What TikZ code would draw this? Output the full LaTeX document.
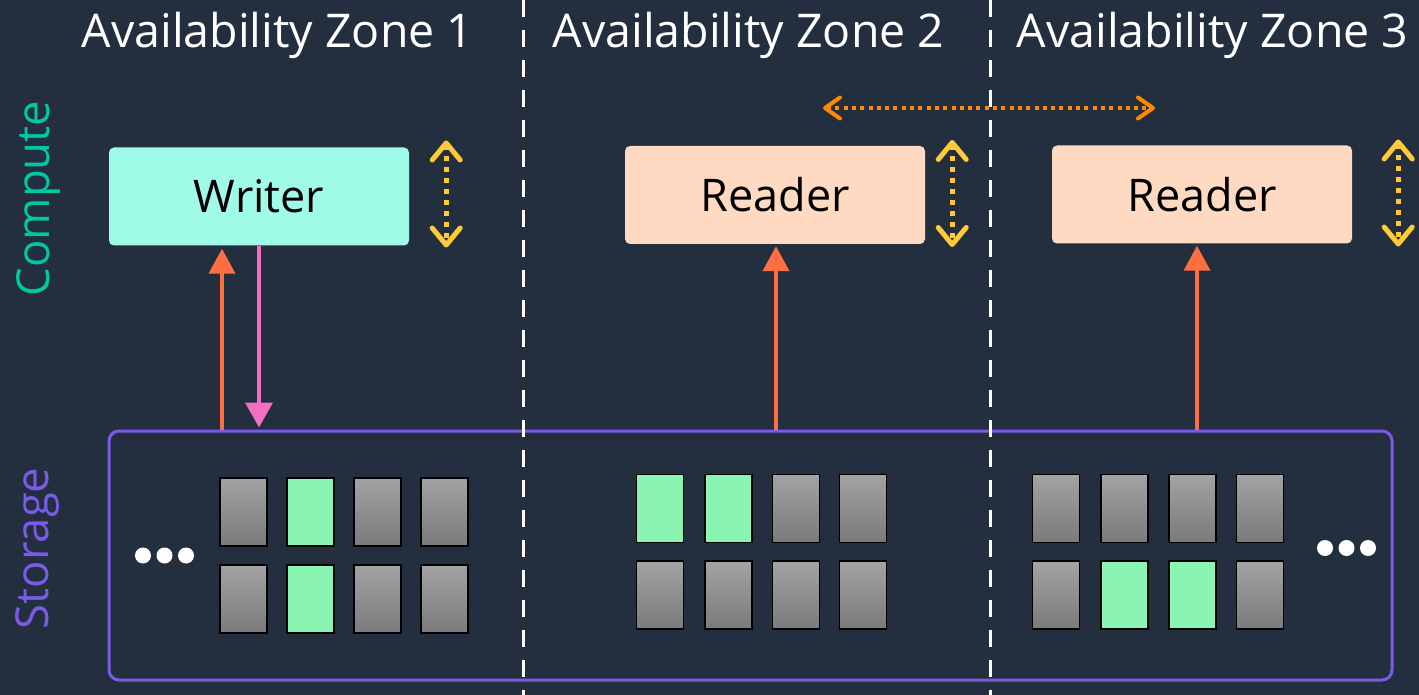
\documentclass[tikz,border=0pt]{standalone}
\usepackage{fontspec}
\setmainfont{Open Sans}
\usetikzlibrary{arrows.meta}

\definecolor{squid}{HTML}{232F3E}
\definecolor{writerfill}{HTML}{A0FAE8}
\definecolor{readerfill}{HTML}{FFDAC2}
\definecolor{scaleyellow}{HTML}{FFCA38}
\definecolor{moveorange}{HTML}{FF8A00}
\definecolor{readorange}{HTML}{FF6E40}
\definecolor{writepink}{HTML}{F46EC1}
\definecolor{storepurple}{HTML}{7A5BE6}
\definecolor{computeteal}{HTML}{01C8A3}
\definecolor{hotgreen}{HTML}{8AF5B2}

\tikzset{
  zonetitle/.style={text=white, font=\fontsize{46.5}{52}\selectfont, anchor=base, inner sep=0pt},
  layerlabel/.style={rotate=90, font=\fontsize{45.5}{52}\selectfont, inner sep=0pt},
  instbox/.style={rounded corners=5pt, minimum width=300pt, minimum height=98pt,
    inner sep=0pt, text=black, font=\fontsize{45}{52}\selectfont},
  storebox/.style={draw=storepurple, line width=3pt, rounded corners=10pt,
    minimum width=1283pt, minimum height=249pt},
  idleblk/.style={draw=black, line width=1.5pt, top color=black!36, bottom color=black!52,
    minimum width=47pt, minimum height=68pt, inner sep=0pt},
  hotblk/.style={idleblk, fill=hotgreen, top color=hotgreen, bottom color=hotgreen},
  dot/.style={circle, fill=white, minimum size=16pt, inner sep=0pt},
  zoneline/.style={white, line width=3pt, dash pattern=on 17pt off 13pt},
  vscale/.style={scaleyellow, line width=5pt, dash pattern=on 5pt off 6pt,
    {Straight Barb[round,length=17pt,width=28pt]}-{Straight Barb[round,length=17pt,width=28pt]}},
  hscale/.style={moveorange, line width=4pt, dash pattern=on 4pt off 4.3pt,
    {Straight Barb[round,length=15pt,width=21pt]}-{Straight Barb[round,length=15pt,width=21pt]}},
  readline/.style={readorange, line width=4pt, -{Triangle[length=25pt,width=26pt]}},
  writeline/.style={writepink, line width=4pt, -{Triangle[length=25pt,width=27pt]}}
}

\begin{document}
\begin{tikzpicture}[x=1pt, y=-1pt]
  \fill[squid] (0,0) rectangle (1419,695);
  \useasboundingbox (0,0) rectangle (1419,695);

  % zones
  \node[zonetitle] (az1) at (277.5,48) {Availability Zone 1};
  \node[zonetitle] (az2) at (748.5,48) {Availability Zone 2};
  \node[zonetitle] (az3) at (1212.5,48) {Availability Zone 3};
  \node[layerlabel, text=computeteal] (compute) at (38,198.5) {Compute};
  \node[layerlabel, text=storepurple] (storage) at (37,548.5) {Storage};

  % storage volume
  \node[storebox] (store) at (750.5,555.5) {};

  \draw[zoneline] (523,0) -- (523,695);
  \draw[zoneline] (990,0) -- (990,695);

  % instances
  \node[instbox, fill=writerfill] (writer) at (259,196.5) {Writer};
  \node[instbox, fill=readerfill] (reader1) at (775,195) {Reader};
  \node[instbox, fill=readerfill] (reader2) at (1202,194.5) {Reader};

  % scaling
  \draw[vscale] ([xshift=37pt,yshift=56pt]writer.east) -- ([xshift=37pt,yshift=-51pt]writer.east);
  \draw[vscale] ([xshift=27pt,yshift=55pt]reader1.east) -- ([xshift=27pt,yshift=-52pt]reader1.east);
  \draw[vscale] ([xshift=46pt,yshift=55pt]reader2.east) -- ([xshift=46pt,yshift=-52pt]reader2.east);
  \coordinate (movel) at (823,108);
  \coordinate (mover) at (1155,108);
  \draw[hscale] (movel) -- (mover);

  % reads and writes
  \draw[readline] ([xshift=-37pt]writer.south |- store.north) -- ([xshift=-37pt,yshift=-3pt]writer.south);
  \draw[writeline] (writer.south) -- ([yshift=2pt]writer.south |- store.north);
  \draw[readline] ([xshift=1pt]reader1.south |- store.north) -- ([xshift=1pt,yshift=-2pt]reader1.south);
  \draw[readline] ([xshift=-5pt]reader2.south |- store.north) -- ([xshift=-5pt,yshift=-2pt]reader2.south);

  % storage blocks
  \foreach \x/\a/\b [count=\i] in {243.5/idleblk/idleblk, 310.5/hotblk/hotblk, 377.5/idleblk/idleblk, 444.5/idleblk/idleblk} {
    \node[\a] (za\i) at (\x,512) {};
    \node[\b] (zb\i) at (\x,599) {};
  }
  \foreach \x/\a/\b [count=\i] in {660/hotblk/idleblk, 728.5/hotblk/idleblk, 796/idleblk/idleblk, 863/idleblk/idleblk} {
    \node[\a] (ya\i) at (\x,508.5) {};
    \node[\b] (yb\i) at (\x,595) {};
  }
  \foreach \x/\a/\b [count=\i] in {1056/idleblk/idleblk, 1124.5/idleblk/hotblk, 1192.5/idleblk/hotblk, 1260/idleblk/idleblk} {
    \node[\a] (xa\i) at (\x,508.5) {};
    \node[\b] (xb\i) at (\x,595) {};
  }

  % more volumes
  \foreach \x [count=\i] in {143,164.5,186} {
    \node[dot] (ldot\i) at (\x,555.5) {};
  }
  \foreach \x [count=\i] in {1325,1346.5,1368} {
    \node[dot] (rdot\i) at (\x,548) {};
  }
\end{tikzpicture}
\end{document}
